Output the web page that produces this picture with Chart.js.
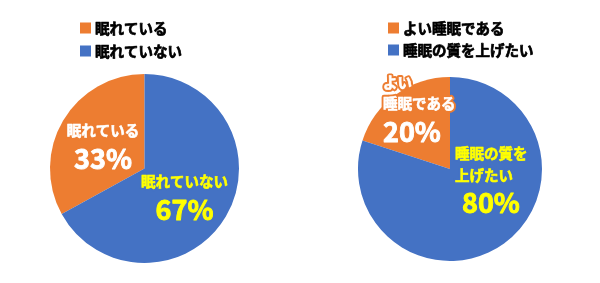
<!DOCTYPE html>
<html>
<head>
  <meta charset="utf-8" />
  <script src="https://cdn.jsdelivr.net/npm/chart.js"></script>
  <style>
    body { margin: 0; background: #fff; }
    .wrap { display: flex; width: 600px; height: 283px; }
    .box { width: 300px; height: 283px; position: relative; }
  </style>
</head>
<body>
  <div class="wrap">
    <div class="box"><canvas id="c1"></canvas></div>
    <div class="box"><canvas id="c2"></canvas></div>
  </div>
  <script>
    const sleepLabels = ['眠れている', '眠れていない'];
    const sleepValues = [33, 67];
    const sleepLines = [['眠れている'], ['眠れていない']];

    const qualityLabels = ['よい睡眠である', '睡眠の質を上げたい'];
    const qualityValues = [20, 80];
    const qualityLines = [['よい', '睡眠である'], ['睡眠の質を', '上げたい']];

    const colors = ['#ED7D31', '#4472C4'];
    const textColors = ['#ffffff', '#ffff00'];
    const FONT = "'Noto Sans CJK JP', 'Noto Sans', sans-serif";

    // heavier text: fill + thin stroke in the same colour
    function heavyText(ctx, t, x, y, color, w) {
      ctx.fillStyle = color;
      ctx.strokeStyle = color;
      ctx.lineWidth = w;
      ctx.fillText(t, x, y);
      ctx.strokeText(t, x, y);
    }

    // legend + in-slice labels
    const pieText = {
      id: 'pieText',
      afterDraw(chart, args, opts) {
        const ctx = chart.ctx;
        const arcs = chart.getDatasetMeta(0).data;
        const cx = arcs[0].x, cy = arcs[0].y;
        const ds = chart.data.datasets[0];
        ctx.save();
        ctx.lineJoin = 'round';

        // legend
        ctx.textBaseline = 'middle';
        ctx.textAlign = 'left';
        ctx.font = 'bold 14.5px ' + FONT;
        chart.data.labels.forEach((lab, i) => {
          const y = opts.legend.y + i * opts.legend.gap;
          ctx.fillStyle = ds.backgroundColor[i];
          ctx.fillRect(opts.legend.x, y - 5.5, 11, 11);
          heavyText(ctx, lab, opts.legend.x + 15, y, '#000', 0.7);
        });

        // slice labels
        opts.slices.forEach((s, i) => {
          ctx.textAlign = s.align;
          const lines = opts.lines[i].map((t) => ({ t, size: 14.5 }));
          lines.push({ t: ds.data[i] + '%', size: 27, big: true });
          lines.forEach((ln, k) => {
            const x = cx + s.dx + (ln.big ? (s.bigDx || 0) : 0);
            const y = cy + s.dy[k];
            ctx.font = 'bold ' + ln.size + 'px ' + FONT;
            ctx.strokeStyle = ds.backgroundColor[i];
            ctx.lineWidth = 4.5;
            ctx.strokeText(ln.t, x, y);
            heavyText(ctx, ln.t, x, y, textColors[i], ln.big ? 0.9 : 0.6);
          });
        });
        ctx.restore();
      }
    };

    function makePie(id, labels, values, lines, pad, legend, slices) {
      new Chart(document.getElementById(id), {
        type: 'pie',
        data: {
          labels: labels,
          datasets: [{
            data: values,
            backgroundColor: colors,
            borderWidth: 0
          }]
        },
        options: {
          responsive: true,
          maintainAspectRatio: false,
          animation: false,
          rotation: -values[0] * 3.6,
          layout: { padding: pad },
          plugins: {
            legend: { display: false },
            tooltip: { enabled: false },
            pieText: { legend: legend, slices: slices, lines: lines }
          }
        },
        plugins: [pieText]
      });
    }

    makePie('c1', sleepLabels, sleepValues, sleepLines,
      { top: 74, bottom: 20, left: 50, right: 61 },
      { x: 80, y: 28, gap: 23 },
      [
        { align: 'center', dx: -41.5, dy: [-38.5, -9.5] },
        { align: 'center', dx: 40, dy: [13, 41] }
      ]);

    makePie('c2', qualityLabels, qualityValues, qualityLines,
      { top: 77, bottom: 22, left: 58, right: 58 },
      { x: 88, y: 28, gap: 22 },
      [
        { align: 'left', dx: -67, dy: [-86.5, -65.5, -37] },
        { align: 'left', dx: 5, bigDx: 7, dy: [-15.5, 6, 34] }
      ]);
  </script>
</body>
</html>
